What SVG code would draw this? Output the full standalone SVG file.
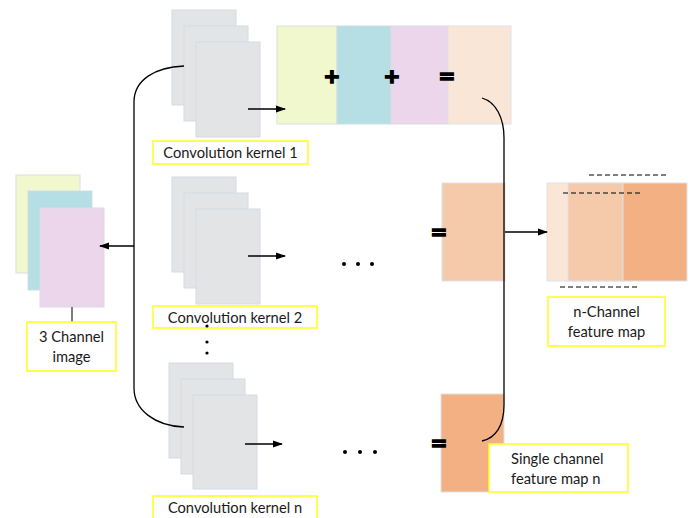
<svg xmlns="http://www.w3.org/2000/svg" width="691" height="518" viewBox="0 0 691 518">
<defs>
<style>
.k{fill:#e3e4e6;stroke:#d4dbe4;stroke-width:1}
.lab{fill:#fff;stroke:#ffff1a;stroke-width:1.5}
.t{font-family:Lato,"Open Sans",sans-serif;font-size:14.7px;fill:#1a1a1a}
.op{font-family:"DejaVu Sans",sans-serif;font-weight:bold;font-size:20px;fill:#000;stroke:#000;stroke-width:1.6;text-anchor:middle}
.ln{fill:none;stroke:#000;stroke-width:1.3}
.dash{stroke:#000;stroke-width:1;stroke-dasharray:5,3}
.y{fill:#f2f8cd;stroke:#d9e0e6}
.c{fill:#b5dfe4;stroke:#cfdde6}
.p{fill:#ecd6ec;stroke:#d8dbe6}
.pl{fill:#fae6d7;stroke:#dfe2e8}
.pm{fill:#f5caab;stroke:#dde2ea}
.pd{fill:#f2b083;stroke:#dde2ea}
.dot{fill:#000}
</style>
<marker id="ah" markerWidth="10" markerHeight="8" refX="9" refY="4" orient="auto" markerUnits="userSpaceOnUse">
<path d="M0,0.5 L10,4 L0,7.5 Z" fill="#000"/>
</marker>
</defs>

<g id="image3">
<rect class="y" x="16" y="175" width="64" height="98"/>
<rect class="c" x="28" y="191" width="64" height="99"/>
<rect class="p" x="40" y="208" width="64" height="99"/>
<line x1="72" y1="307" x2="72" y2="322" stroke="#555" stroke-width="1.5"/>
<rect class="lab" x="27" y="322" width="89" height="49"/>
<text class="t" x="71.5" y="342" text-anchor="middle">3 Channel</text>
<text class="t" x="71.5" y="362" text-anchor="middle">image</text>
</g>

<g id="kernel1">
<rect class="k" x="172" y="10" width="64" height="95"/>
<rect class="k" x="184" y="26" width="64" height="95"/>
<rect class="k" x="196" y="42" width="64" height="95"/>
<rect class="lab" x="153" y="141" width="155" height="23"/>
<text class="t" x="230.5" y="158" text-anchor="middle">Convolution kernel 1</text>
</g>

<g id="kernel2">
<rect class="k" x="172" y="177" width="64" height="95"/>
<rect class="k" x="184" y="193" width="64" height="95"/>
<rect class="k" x="196" y="209" width="64" height="95"/>
<rect class="lab" x="153" y="306" width="164" height="22"/>
<text class="t" x="235" y="322.5" text-anchor="middle">Convolution kernel 2</text>
</g>

<g id="vdots">
<circle class="dot" cx="207" cy="326" r="1.6"/>
<circle class="dot" cx="207" cy="342" r="1.6"/>
<circle class="dot" cx="207" cy="353" r="1.6"/>
</g>

<g id="kerneln">
<rect class="k" x="169" y="363" width="64" height="95"/>
<rect class="k" x="181" y="379" width="64" height="95"/>
<rect class="k" x="193" y="395" width="64" height="94"/>
<rect class="lab" x="153" y="496" width="164" height="26"/>
<text class="t" x="235" y="512.5" text-anchor="middle">Convolution kernel n</text>
</g>

<g id="sum-row">
<rect class="y" x="277" y="26" width="60" height="98"/>
<rect class="c" x="337" y="26" width="54" height="98"/>
<rect class="p" x="391" y="26" width="57" height="98"/>
<rect class="pl" x="448" y="26" width="63" height="98"/>
<text class="op" x="332" y="83">+</text>
<text class="op" x="392" y="83">+</text>
<text class="op" x="447" y="83">=</text>
</g>

<g id="dots2">
<circle class="dot" cx="344" cy="264" r="2"/>
<circle class="dot" cx="358" cy="264" r="2"/>
<circle class="dot" cx="372" cy="264" r="2"/>
</g>
<g id="dotsn">
<circle class="dot" cx="345" cy="452" r="2"/>
<circle class="dot" cx="360" cy="452" r="2"/>
<circle class="dot" cx="375" cy="452" r="2"/>
</g>

<g id="fmap2">
<rect class="pm" x="442" y="183" width="63" height="98"/>
<text class="op" x="439" y="239">=</text>
</g>

<g id="fmapn">
<rect class="pd" x="441" y="394" width="63" height="98"/>
<text class="op" x="439" y="450">=</text>
<rect class="lab" x="489" y="444" width="139" height="48"/>
<text class="t" x="511" y="464">Single channel</text>
<text class="t" x="511" y="484">feature map n</text>
</g>

<g id="nchannel">
<rect class="pl" x="547" y="183" width="76" height="98"/>
<rect class="pm" x="568" y="183" width="64" height="98"/>
<rect class="pd" x="623" y="183" width="64" height="98"/>
<line class="dash" x1="589" y1="175" x2="666" y2="175"/>
<line class="dash" x1="563" y1="193" x2="640" y2="193"/>
<line class="dash" x1="560" y1="287" x2="637" y2="287"/>
<rect class="lab" x="548" y="297" width="117" height="49"/>
<text class="t" x="606.5" y="317" text-anchor="middle">n-Channel</text>
<text class="t" x="606.5" y="337" text-anchor="middle">feature map</text>
</g>

<g id="connectors">
<path class="ln" d="M184,66 C155,67 134,80 134,102 L134,388 C134,410 155,426 184,427"/>
<line class="ln" x1="134" y1="246" x2="100" y2="246" marker-end="url(#ah)"/>
<path class="ln" d="M482,98 C496,102 504,118 504,138 L504,405 C504,425 496,438 482,441"/>
<line class="ln" x1="248" y1="109" x2="285" y2="109" marker-end="url(#ah)"/>
<line class="ln" x1="248" y1="256" x2="285" y2="256" marker-end="url(#ah)"/>
<line class="ln" x1="245" y1="444" x2="282" y2="444" marker-end="url(#ah)"/>
<line class="ln" x1="505" y1="232" x2="547" y2="232" stroke="#333" marker-end="url(#ah)"/>
</g>
</svg>
